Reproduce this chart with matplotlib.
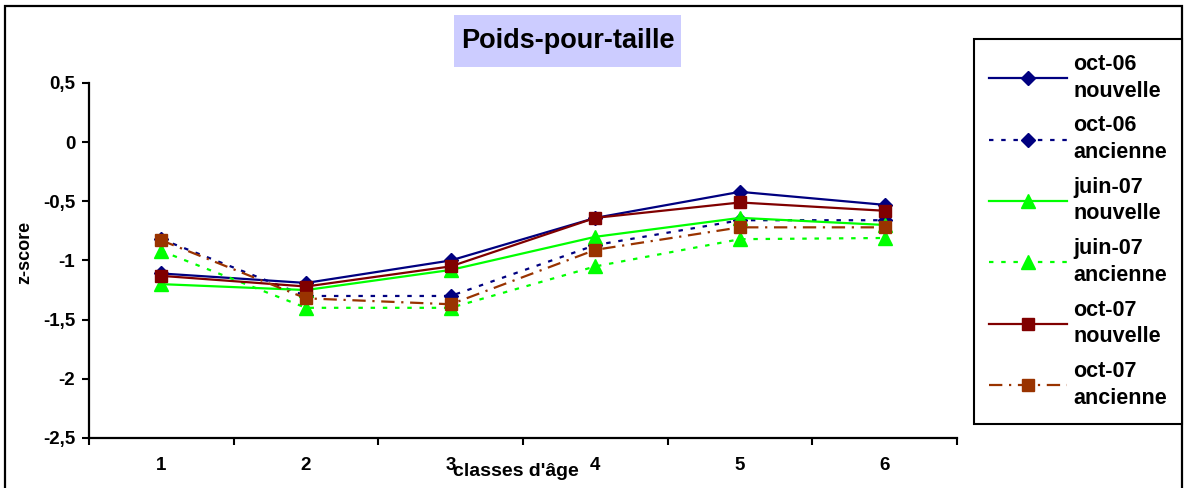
import numpy as np
import matplotlib.pyplot as plt
from matplotlib.patches import Rectangle

plt.rcParams['font.family'] = ['Liberation Sans', 'DejaVu Sans']
plt.rcParams['font.weight'] = 'bold'

# classes d'âge and z-scores poids-pour-taille
classes = [1, 2, 3, 4, 5, 6]
oct06_nouvelle = [-1.11, -1.19, -1.00, -0.64, -0.42, -0.53]
oct06_ancienne = [-0.82, -1.30, -1.30, -0.87, -0.66, -0.66]
juin07_nouvelle = [-1.20, -1.25, -1.08, -0.80, -0.64, -0.70]
juin07_ancienne = [-0.92, -1.40, -1.40, -1.05, -0.82, -0.81]
oct07_nouvelle = [-1.13, -1.22, -1.05, -0.64, -0.51, -0.58]
oct07_ancienne = [-0.83, -1.32, -1.37, -0.91, -0.72, -0.72]

yticks = [0.5, 0, -0.5, -1, -1.5, -2, -2.5]
ytick_labels = ['0,5', '0', '-0,5', '-1', '-1,5', '-2', '-2,5']

navy = '#000080'
green = '#00FF00'
darkred = '#800000'
brown = '#993300'
dots = (0, (2, 3.5))
dashdot = (0, (6, 3, 1, 3))

series = [
    ('oct-06\nnouvelle', oct06_nouvelle, navy, '-', 'D', 7),
    ('oct-06\nancienne', oct06_ancienne, navy, dots, 'D', 7),
    ('juin-07\nnouvelle', juin07_nouvelle, green, '-', '^', 9.5),
    ('juin-07\nancienne', juin07_ancienne, green, dots, '^', 9.5),
    ('oct-07\nnouvelle', oct07_nouvelle, darkred, '-', 's', 8),
    ('oct-07\nancienne', oct07_ancienne, brown, dashdot, 's', 8),
]

fig = plt.figure(figsize=(11.84, 4.88), dpi=100)
ax = fig.add_axes([0.0752, 0.1025, 0.7331, 0.7275])

for label, vals, col, ls, mk, ms in series:
    ax.plot(classes, vals, color=col, linestyle=ls, linewidth=1.6,
            marker=mk, markersize=ms, markerfacecolor=col,
            markeredgecolor=col, label=label)

ax.set_xlim(0.5, 6.5)
ax.set_ylim(-2.5, 0.5)

# category boundaries carry the tick marks, labels sit in between
ax.set_xticks(np.arange(0.5, 7, 1))
ax.set_xticklabels([])
ax.set_xticks(classes, minor=True)
ax.set_xticklabels([str(c) for c in classes], minor=True)
ax.tick_params(axis='x', which='major', direction='out', length=5, width=1.5)
ax.tick_params(axis='x', which='minor', length=0, pad=14, labelsize=13.5)
ax.set_yticks(yticks)
ax.set_yticklabels(ytick_labels)
ax.tick_params(axis='y', direction='out', length=5, width=1.5, labelsize=13.5, pad=5)

for side in ['top', 'right']:
    ax.spines[side].set_visible(False)
for side in ['left', 'bottom']:
    ax.spines[side].set_linewidth(1.6)

ax.set_xlabel("classes d'âge", fontsize=14, fontweight='bold')
ax.xaxis.set_label_coords(0.492, -0.07)
ax.set_ylabel('z-score', fontsize=13, fontweight='bold')
ax.yaxis.set_label_coords(-0.064, 0.524)

# title in its shaded box
fig.patches.append(Rectangle((0.3834, 0.8627), 0.1917, 0.1066,
                             transform=fig.transFigure, facecolor='#CCCCFF',
                             edgecolor='none', zorder=0))
fig.text(0.3834 + 0.1917 / 2, 0.8627 + 0.1066 / 2, 'Poids-pour-taille',
         ha='center', va='center', fontsize=19.5, fontweight='bold')

leg = fig.legend(loc='upper left', bbox_to_anchor=(974 / 1184, 1 - 39 / 488),
                 borderaxespad=0, fontsize=15.5, handlelength=3.6,
                 handletextpad=0.3, labelspacing=0.64, borderpad=0.7,
                 numpoints=1, fancybox=False, framealpha=1)
leg.get_frame().set_edgecolor('black')
leg.get_frame().set_linewidth(1.5)
for txt in leg.get_texts():
    txt.set_linespacing(1.35)

# outer chart border
fig.patches.append(Rectangle((5 / 1184, -0.01), 1177 / 1184, 1 - 6 / 488 + 0.01,
                             transform=fig.transFigure, facecolor='none',
                             edgecolor='black', linewidth=1.6))

fig.savefig('out.png', dpi=100)
